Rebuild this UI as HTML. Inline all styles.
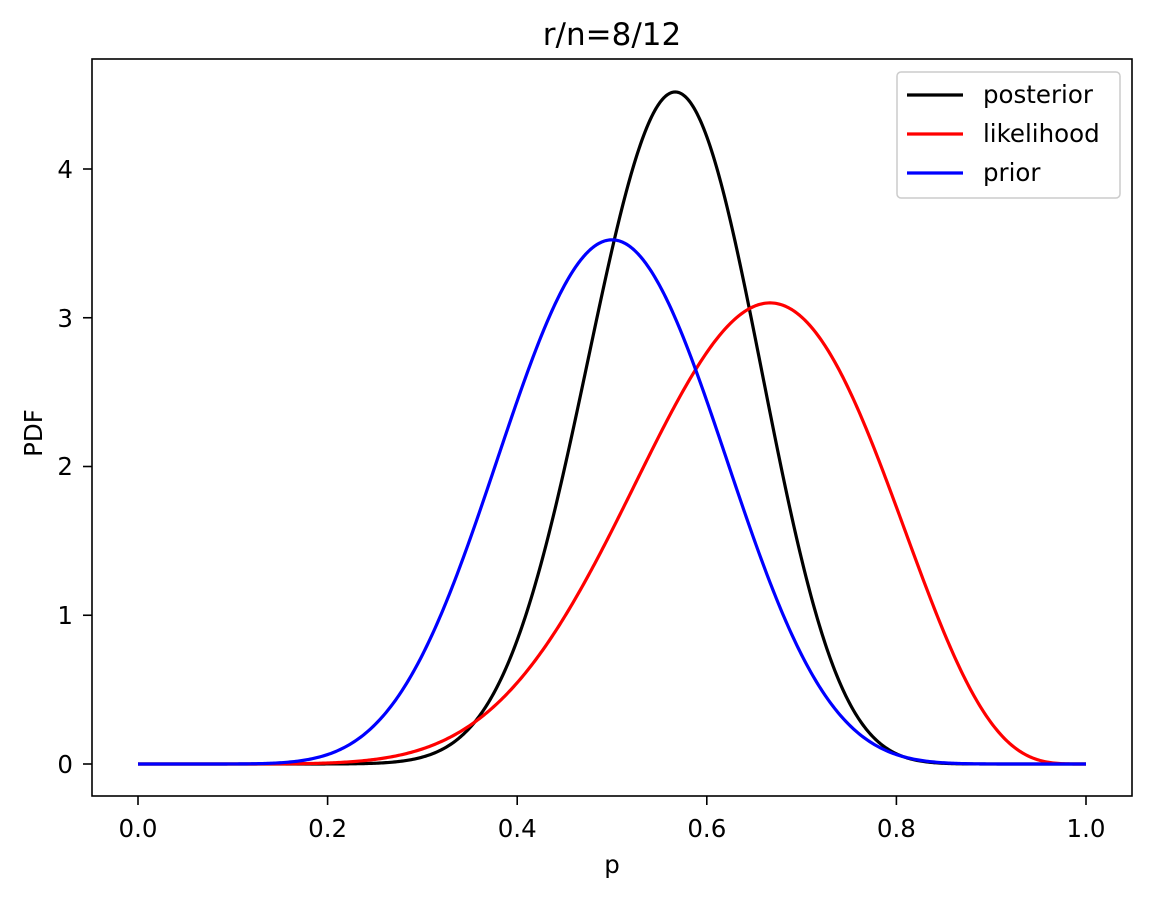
<!DOCTYPE html>
<html><head><meta charset="utf-8"><style>
html,body{margin:0;padding:0;background:#fff;}
svg{display:block;font-family:"DejaVu Sans","Liberation Sans",sans-serif;}
</style></head><body>
<svg id="s" width="1152" height="898" viewBox="0 0 1152 898" xmlns="http://www.w3.org/2000/svg">
<rect width="1152" height="898" fill="#fff"/>
<text x="612" y="45" font-size="31" text-anchor="middle">r/n=8/12</text>
<g id="curves" fill="none" stroke-width="3.2" stroke-linejoin="round"></g>
<rect x="92" y="59" width="1040" height="737" fill="none" stroke="#000" stroke-width="1.6"/>
<g stroke="#000" stroke-width="1.6">
<line x1="138" y1="796" x2="138" y2="805"/><line x1="327.6" y1="796" x2="327.6" y2="805"/>
<line x1="517.2" y1="796" x2="517.2" y2="805"/><line x1="706.8" y1="796" x2="706.8" y2="805"/>
<line x1="896.4" y1="796" x2="896.4" y2="805"/><line x1="1086" y1="796" x2="1086" y2="805"/>
<line x1="83" y1="764" x2="92" y2="764"/><line x1="83" y1="615.25" x2="92" y2="615.25"/>
<line x1="83" y1="466.5" x2="92" y2="466.5"/><line x1="83" y1="317.75" x2="92" y2="317.75"/>
<line x1="83" y1="169" x2="92" y2="169"/>
</g>
<g font-size="24.5" text-anchor="middle">
<text x="138" y="837">0.0</text><text x="327.6" y="837">0.2</text><text x="517.2" y="837">0.4</text>
<text x="706.8" y="837">0.6</text><text x="896.4" y="837">0.8</text><text x="1086" y="837">1.0</text>
</g>
<g font-size="24.5" text-anchor="end">
<text x="73" y="773">0</text><text x="73" y="624">1</text><text x="73" y="475">2</text>
<text x="73" y="327">3</text><text x="73" y="178">4</text>
</g>
<text x="612" y="873" font-size="24.5" text-anchor="middle">p</text>
<text transform="translate(42,433) rotate(-90)" font-size="24.5" text-anchor="middle">PDF</text>
<rect x="897" y="72" width="223" height="126" rx="4" fill="#fff" fill-opacity="0.8" stroke="#ccc" stroke-width="1.5"/>
<line x1="907" y1="95" x2="963" y2="95" stroke="#000" stroke-width="3.2"/>
<line x1="907" y1="134" x2="963" y2="134" stroke="#f00" stroke-width="3.2"/>
<line x1="907" y1="173" x2="963" y2="173" stroke="#00f" stroke-width="3.2"/>
<g font-size="24.5"><text x="983" y="103">posterior</text><text x="983" y="142">likelihood</text><text x="983" y="181">prior</text></g>
</svg>
<script>
function lf(n){var s=0;for(var i=2;i<=n;i++)s+=Math.log(i);return s;}
function beta(a,b){var c=lf(a+b-1)-lf(a-1)-lf(b-1);return function(p){if(p<=0||p>=1)return 0;return Math.exp(c+(a-1)*Math.log(p)+(b-1)*Math.log(1-p));};}
function path(f){var d="";for(var i=0;i<=600;i++){var p=i/600;var x=138+948*p,y=764-148.75*f(p);d+=(i?"L":"M")+x.toFixed(2)+","+y.toFixed(2);}return d;}
var g=document.getElementById("curves");
[[beta(18,14),"#000"],[beta(9,5),"#f00"],[beta(10,10),"#00f"]].forEach(function(c){
var e=document.createElementNS("http://www.w3.org/2000/svg","path");e.setAttribute("d",path(c[0]));e.setAttribute("stroke",c[1]);g.appendChild(e);});
</script>
</body></html>
